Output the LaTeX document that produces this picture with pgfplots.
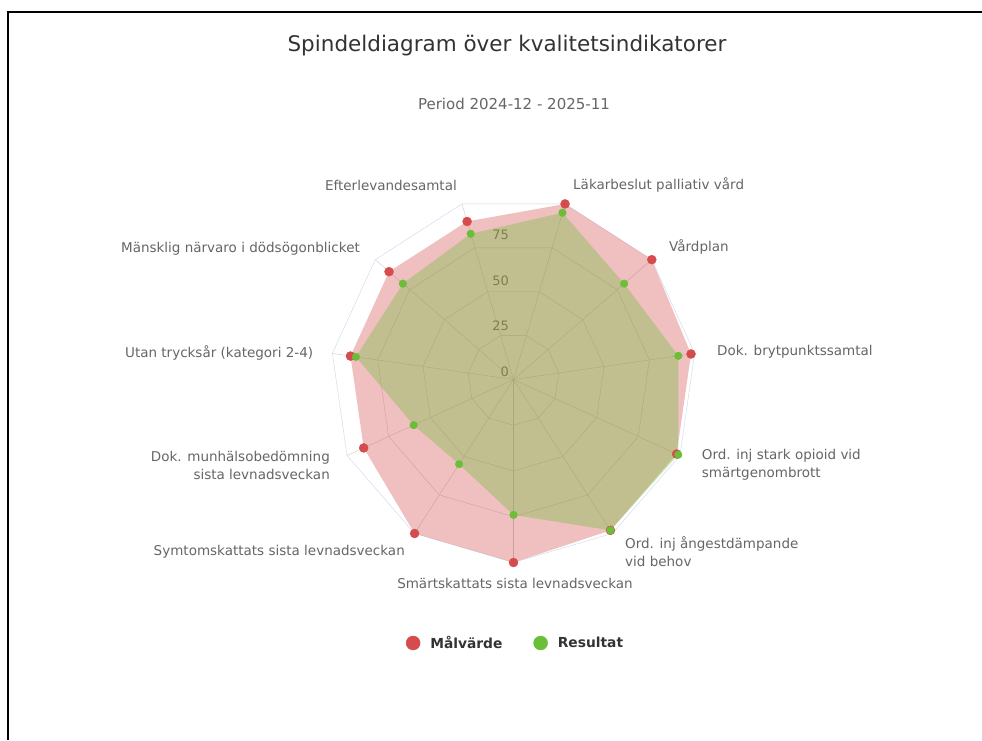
\documentclass[border=0pt]{standalone}
\usepackage{pgfplots}
\pgfplotsset{compat=1.18}
\usepackage{fontspec}
\setmainfont{DejaVu Sans}

\definecolor{malred}{RGB}{214,75,75}
\definecolor{resgreen}{RGB}{106,190,56}
\definecolor{gridc}{RGB}{204,204,204}
\definecolor{outerc}{RGB}{204,214,235}
\definecolor{txt}{RGB}{102,102,102}
\definecolor{titlec}{RGB}{51,51,51}

\begin{document}
\begin{tikzpicture}[x=1pt,y=1pt]
\path[use as bounding box] (0,0) rectangle (982,740);
\fill[white] (0,0) rectangle (982,740);
\draw[line width=2pt] (7.5,0) -- (7.5,727.5) -- (982,727.5);

% titles
\node[font=\fontsize{21.5}{26}\selectfont, text=titlec] at (507,694) {Spindeldiagram över kvalitetsindikatorer};
\node[font=\fontsize{15}{18}\selectfont, text=txt] at (514,636) {Period 2024-12 - 2025-11};

\begin{axis}[
    at={(513.5pt,360.5pt)}, anchor=center,
    scale only axis, width=366pt, height=366pt,
    xmin=-100, xmax=100, ymin=-100, ymax=100,
    hide axis, clip=false,
    legend columns=2,
    legend style={at={(0.5,0)}, anchor=center, xshift=2pt, yshift=-80.5pt,
        draw=none, fill=none, text=titlec,
        font=\bfseries\fontsize{13.8}{16}\selectfont,
        /tikz/every odd column/.append style={column sep=8pt},
        /tikz/every even column/.append style={column sep=29pt}},
]

% polygon grid
\pgfplotsinvokeforeach{25,50,75}{
\addplot[gridc, forget plot, data cs=polar] coordinates {
    (73.636,#1) (40.909,#1) (8.182,#1) (-24.545,#1) (-57.273,#1) (-90,#1)
    (-122.727,#1) (-155.455,#1) (-188.182,#1) (-220.909,#1) (-253.636,#1) (73.636,#1)};
}
\pgfplotsinvokeforeach{73.636,40.909,8.182,-24.545,-57.273,-90,-122.727,-155.455,-188.182,-220.909,-253.636}{
\addplot[gridc, forget plot, data cs=polar] coordinates {(#1,0) (#1,100)};
}
\addplot[outerc, forget plot, data cs=polar] coordinates {
    (73.636,100) (40.909,100) (8.182,100) (-24.545,100) (-57.273,100) (-90,100)
    (-122.727,100) (-155.455,100) (-188.182,100) (-220.909,100) (-253.636,100) (73.636,100)};

% ring labels
\pgfplotsinvokeforeach{0,25,50,75}{
  \node[anchor=east, text=txt, inner sep=0pt, font=\fontsize{13}{15}\selectfont,
        xshift=-4.5pt, yshift=7.5pt] at (axis cs:0,#1) {#1};
}

% Målvärde
\addplot[draw=none, fill=malred, fill opacity=0.35, forget plot, data cs=polar] coordinates {
    (73.636,100) (40.909,100) (8.182,98) (-24.545,98) (-57.273,98) (-90,100)
    (-122.727,100) (-155.455,90) (-188.182,90) (-220.909,90) (-253.636,90) (73.636,100)};
\addplot[only marks, mark=*, mark size=4.5pt, malred, forget plot, data cs=polar] coordinates {
    (73.636,100) (40.909,100) (8.182,98) (-24.545,98) (-57.273,98) (-90,100)
    (-122.727,100) (-155.455,90) (-188.182,90) (-220.909,90) (-253.636,90)};

% Resultat
\addplot[draw=none, fill=resgreen, fill opacity=0.35, forget plot, data cs=polar] coordinates {
    (73.636,95) (40.909,80) (8.182,91) (-24.545,99) (-57.273,98) (-90,74)
    (-122.727,55) (-155.455,60) (-188.182,87) (-220.909,80) (-253.636,83) (73.636,95)};
\addplot[only marks, mark=*, mark size=3.8pt, resgreen, forget plot, data cs=polar] coordinates {
    (73.636,95) (40.909,80) (8.182,91) (-24.545,99) (-57.273,98) (-90,74)
    (-122.727,55) (-155.455,60) (-188.182,87) (-220.909,80) (-253.636,83)};

\addlegendimage{legend image code/.code={\fill[malred] (0pt,0pt) circle (7pt);}}
\addlegendentry{Målvärde}
\addlegendimage{legend image code/.code={\fill[resgreen] (0pt,0pt) circle (7pt);}}
\addlegendentry{Resultat}
\end{axis}

% category labels
\begin{scope}[every node/.style={text=txt, inner sep=0pt, font=\fontsize{13.5}{18}\selectfont}]
\node[anchor=west] at (573,555) {Läkarbeslut palliativ vård};
\node[anchor=west] at (669,492.7) {Vårdplan};
\node[anchor=west] at (717,388.3) {Dok. brytpunktssamtal};
\node[anchor=west, align=left] at (701.7,275) {Ord. inj stark opioid vid\\smärtgenombrott};
\node[anchor=west, align=left] at (625,188) {Ord. inj ångestdämpande\\vid behov};
\node[anchor=center] at (515,156.7) {Smärtskattats sista levnadsveckan};
\node[anchor=east] at (405,188.3) {Symtomskattats sista levnadsveckan};
\node[anchor=east, align=right] at (330,275) {Dok. munhälsobedömning\\sista levnadsveckan};
\node[anchor=east] at (313.3,386.7) {Utan trycksår (kategori 2-4)};
\node[anchor=east] at (360,491.7) {Mänsklig närvaro i dödsögonblicket};
\node[anchor=east] at (457,555) {Efterlevandesamtal};
\end{scope}
\end{tikzpicture}
\end{document}
